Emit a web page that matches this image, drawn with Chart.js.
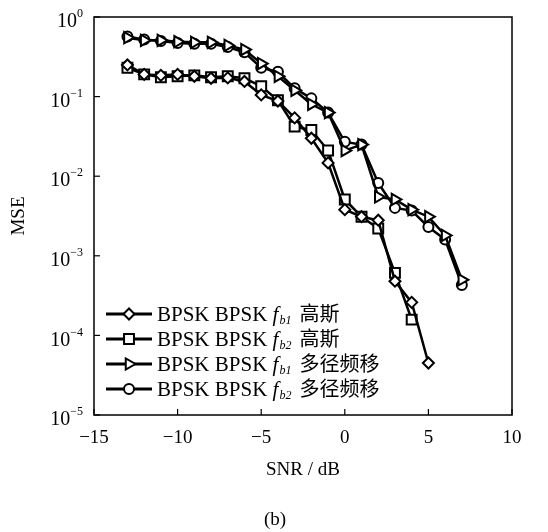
<!DOCTYPE html>
<html>
<head>
<meta charset="utf-8">
<script src="https://cdn.jsdelivr.net/npm/chart.js@4.4.1/dist/chart.umd.min.js"></script>
<style>
  body { margin: 0; background: #fff; }
  #wrap { width: 548px; height: 532px; }
</style>
</head>
<body>
<div id="wrap"><canvas id="mse"></canvas></div>
<script>
// SNR points (dB) and MSE values
const snr = [-13, -12, -11, -10, -9, -8, -7, -6, -5, -4, -3, -2, -1, 0, 1, 2, 3, 4, 5, 6, 7];
const fb1Gauss = [0.25, 0.19, 0.185, 0.19, 0.18, 0.17, 0.172, 0.155, 0.105, 0.088, 0.054, 0.030, 0.0147, 0.0038, 0.0031, 0.0028, 0.00048, 0.00026, 0.000045];
const fb2Gauss = [0.23, 0.19, 0.175, 0.18, 0.185, 0.175, 0.18, 0.17, 0.135, 0.09, 0.042, 0.038, 0.021, 0.0051, 0.0031, 0.0022, 0.00061, 0.000158];
const fb1Multi = [0.55, 0.51, 0.51, 0.49, 0.48, 0.48, 0.44, 0.39, 0.26, 0.18, 0.12, 0.08, 0.063, 0.021, 0.025, 0.0055, 0.0051, 0.0038, 0.0031, 0.0018, 0.0005];
const fb2Multi = [0.57, 0.52, 0.5, 0.47, 0.46, 0.46, 0.42, 0.36, 0.23, 0.205, 0.127, 0.095, 0.063, 0.027, 0.025, 0.0082, 0.004, 0.0037, 0.0023, 0.0016, 0.00043];

const xTicks = [-15, -10, -5, 0, 5, 10];
const yExps = [0, -1, -2, -3, -4, -5];
const seriesSubs = ["b1", "b2", "b1", "b2"];
const seriesNames = ["高斯", "高斯", "多径频移", "多径频移"];

const SERIF = '"Liberation Serif", "Times New Roman", serif';
const CJK = '"Noto Sans CJK SC", sans-serif';

function toPoints(vals) {
  return vals.map((v, i) => ({ x: snr[i], y: v }));
}

function series(vals, style, radius, rotation) {
  return {
    data: toPoints(vals),
    borderColor: "#000",
    borderWidth: 2.5,
    pointStyle: style,
    pointRadius: radius,
    pointRotation: rotation,
    pointBackgroundColor: "#fff",
    pointBorderColor: "#000",
    pointBorderWidth: 2,
    tension: 0,
    fill: false
  };
}

const datasets = [
  series(fb1Gauss, "rectRot", 5.5, 0),
  series(fb2Gauss, "rect", 7, 0),
  series(fb1Multi, "triangle", 6.5, 90),
  series(fb2Multi, "circle", 5, 0)
];

// box, inner ticks, tick labels, titles and legend
const decor = {
  id: "decor",
  afterDraw(chart) {
    const ctx = chart.ctx;
    const a = chart.chartArea;
    const xs = chart.scales.x, ys = chart.scales.y;
    ctx.save();
    ctx.strokeStyle = "#000";
    ctx.fillStyle = "#000";
    ctx.lineWidth = 1.5;
    ctx.strokeRect(a.left, a.top, a.right - a.left, a.bottom - a.top);

    // x ticks
    ctx.lineWidth = 1.2;
    ctx.font = "19px " + SERIF;
    ctx.textAlign = "center";
    ctx.textBaseline = "middle";
    xTicks.forEach(t => {
      const px = xs.getPixelForValue(t);
      ctx.beginPath();
      ctx.moveTo(px, a.bottom);
      ctx.lineTo(px, a.bottom - 6);
      ctx.stroke();
      const lbl = t < 0 ? "\u2212" + Math.abs(t) : String(t);
      ctx.fillText(lbl, px, a.bottom + 23);
    });

    // y ticks with power-of-ten labels
    yExps.forEach(e => {
      const py = ys.getPixelForValue(Math.pow(10, e));
      ctx.beginPath();
      ctx.moveTo(a.left, py);
      ctx.lineTo(a.left + 6, py);
      ctx.stroke();
      const ex = e < 0 ? "\u2212" + Math.abs(e) : String(e);
      ctx.font = "12px " + SERIF;
      const ew = ctx.measureText(ex).width;
      ctx.textAlign = "left";
      ctx.fillText(ex, a.left - 11 - ew, py - 3);
      ctx.font = "20px " + SERIF;
      ctx.textAlign = "right";
      ctx.fillText("10", a.left - 11 - ew, py + 5);
    });

    // axis titles
    ctx.font = "19px " + SERIF;
    ctx.textAlign = "center";
    ctx.fillText("SNR / dB", (a.left + a.right) / 2, 470);
    ctx.fillText("(b)", 275, 520);
    ctx.save();
    ctx.translate(19, 216);
    ctx.rotate(-Math.PI / 2);
    ctx.fillText("MSE", 0, 0);
    ctx.restore();

    // legend
    const x0 = 106, x1 = 152, tx = 157;
    chart.data.datasets.forEach((ds, i) => {
      const ly = 314 + i * 25;
      ctx.strokeStyle = "#000";
      ctx.lineWidth = 2.8;
      ctx.beginPath();
      ctx.moveTo(x0, ly);
      ctx.lineTo(x1, ly);
      ctx.stroke();
      ctx.fillStyle = "#fff";
      ctx.lineWidth = 2;
      Chart.helpers.drawPoint(ctx, {
        pointStyle: ds.pointStyle,
        radius: ds.pointRadius,
        rotation: ds.pointRotation,
        borderWidth: 2
      }, (x0 + x1) / 2, ly);
      ctx.fillStyle = "#000";
      ctx.textAlign = "left";
      ctx.textBaseline = "alphabetic";
      let cx = tx;
      const base = ly + 7;
      ctx.font = "21px " + SERIF;
      ctx.fillText("BPSK BPSK ", cx, base);
      cx += ctx.measureText("BPSK BPSK ").width;
      ctx.font = "italic 21px " + SERIF;
      ctx.fillText("f", cx, base);
      cx += ctx.measureText("f").width + 1;
      ctx.font = "italic 12px " + SERIF;
      ctx.fillText(seriesSubs[i], cx, base + 3);
      cx += ctx.measureText(seriesSubs[i]).width + 8;
      ctx.font = "20px " + CJK;
      ctx.fillText(seriesNames[i], cx, base);
    });
    ctx.restore();
  }
};

new Chart(document.getElementById("mse"), {
  type: "line",
  data: { datasets: datasets },
  options: {
    responsive: true,
    maintainAspectRatio: false,
    animation: false,
    layout: { padding: { left: 0, top: 17, right: 36, bottom: 0 } },
    plugins: {
      legend: { display: false },
      tooltip: { enabled: false }
    },
    scales: {
      x: {
        type: "linear",
        min: -15,
        max: 10,
        ticks: { display: false },
        grid: { display: false, drawTicks: false },
        border: { display: false },
        afterFit: (s) => { s.height = 117; }
      },
      y: {
        type: "logarithmic",
        min: 1e-5,
        max: 1,
        ticks: { display: false },
        grid: { display: false, drawTicks: false },
        border: { display: false },
        afterFit: (s) => { s.width = 94; }
      }
    }
  },
  plugins: [decor]
});
</script>
</body>
</html>
